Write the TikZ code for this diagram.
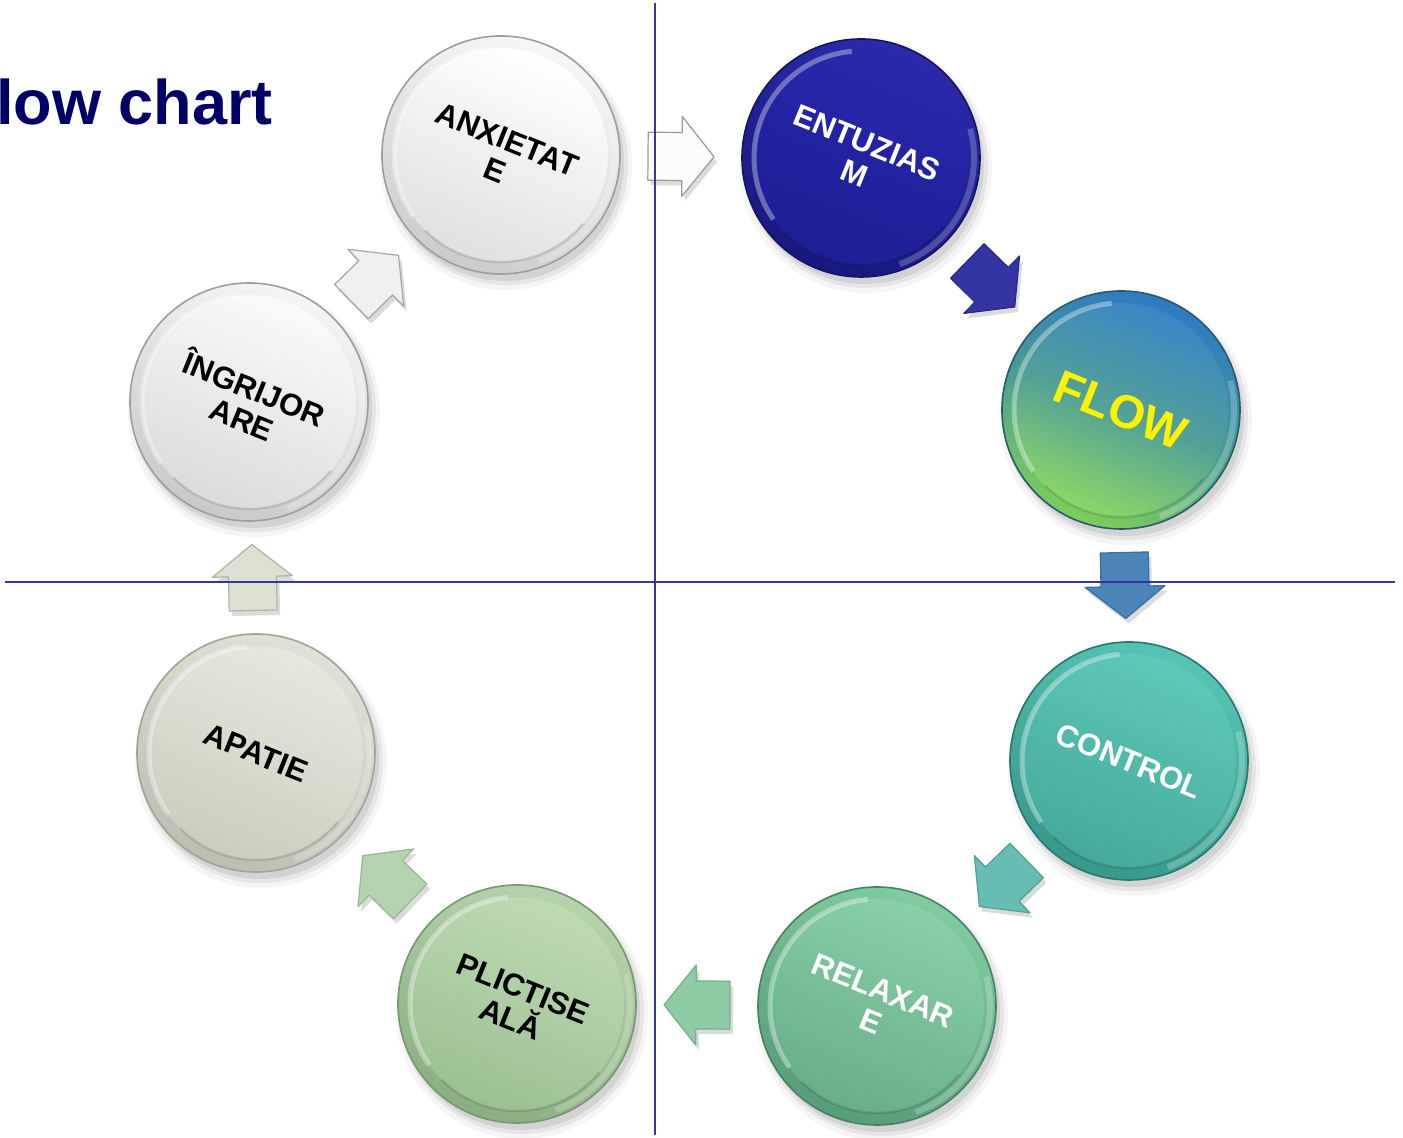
\documentclass[tikz,border=0pt]{standalone}
\usepackage{fontspec}
\setmainfont{Liberation Sans}
\usetikzlibrary{calc}

\definecolor{ruleblue}{HTML}{3535A3}
\definecolor{titleblue}{HTML}{000066}

% shadings of the eight discs: outer ring, inner face, outline
\tikzset{
  anx/outer/.style={top color=white!97!black, bottom color=white!80!black, shading angle=-22},
  anx/inner/.style={top color=white, bottom color=white!88!black, shading angle=-22},
  anx/edge/.style={draw=white!62!black},
  ent/outer/.style={top color={rgb,255:red,42;green,42;blue,172}, bottom color={rgb,255:red,24;green,24;blue,126}, shading angle=-22},
  ent/inner/.style={top color={rgb,255:red,40;green,40;blue,172}, bottom color={rgb,255:red,30;green,30;blue,150}, shading angle=-22},
  ent/edge/.style={draw={rgb,255:red,20;green,20;blue,100}},
  flw/outer/.style={top color={rgb,255:red,45;green,122;blue,196}, bottom color={rgb,255:red,125;green,205;blue,92}, middle color={rgb,255:red,74;green,154;blue,150}, shading angle=-22},
  flw/inner/.style={top color={rgb,255:red,58;green,134;blue,198}, bottom color={rgb,255:red,140;green,215;blue,102}, middle color={rgb,255:red,82;green,160;blue,152}, shading angle=-22},
  flw/edge/.style={draw={rgb,255:red,40;green,90;blue,110}},
  ctl/outer/.style={top color={rgb,255:red,86;green,196;blue,180}, bottom color={rgb,255:red,56;green,152;blue,138}, shading angle=-22},
  ctl/inner/.style={top color={rgb,255:red,94;green,200;blue,185}, bottom color={rgb,255:red,70;green,170;blue,154}, shading angle=-22},
  ctl/edge/.style={draw={rgb,255:red,40;green,120;blue,110}},
  rlx/outer/.style={top color={rgb,255:red,128;green,204;blue,160}, bottom color={rgb,255:red,88;green,156;blue,120}, shading angle=-22},
  rlx/inner/.style={top color={rgb,255:red,136;green,208;blue,168}, bottom color={rgb,255:red,104;green,174;blue,136}, shading angle=-22},
  rlx/edge/.style={draw={rgb,255:red,70;green,130;blue,100}},
  plc/outer/.style={top color={rgb,255:red,182;green,212;blue,172}, bottom color={rgb,255:red,138;green,174;blue,130}, shading angle=-22},
  plc/inner/.style={top color={rgb,255:red,190;green,218;blue,180}, bottom color={rgb,255:red,156;green,192;blue,146}, shading angle=-22},
  plc/edge/.style={draw={rgb,255:red,120;green,150;blue,112}},
  apa/outer/.style={top color={rgb,255:red,224;green,226;blue,214}, bottom color={rgb,255:red,188;green,191;blue,176}, shading angle=-22},
  apa/inner/.style={top color={rgb,255:red,230;green,232;blue,220}, bottom color={rgb,255:red,203;green,206;blue,190}, shading angle=-22},
  apa/edge/.style={draw={rgb,255:red,160;green,163;blue,150}},
  ing/outer/.style={top color=white!96!black, bottom color=white!79!black, shading angle=-22},
  ing/inner/.style={top color=white!98!black, bottom color=white!86!black, shading angle=-22},
  ing/edge/.style={draw=white!62!black},
  bubbletext/.style={circle, minimum size=238, inner sep=0, align=center, rotate=-22},
  lbl/.style={font=\fontsize{15.5}{16.5}\selectfont\bfseries},
  biglbl/.style={font=\fontsize{23.5}{25}\selectfont\bfseries},
  quadrule/.style={draw=ruleblue, line width=1pt},
  arrowshadow/.style={fill=black, opacity=0.14},
}

% bevelled disc with its label: name, centre, shading prefix, text colour, font style, label
\newcommand\bubble[6]{%
  \fill[black,opacity=.04] ($(#2)+(5,-9)$) circle (126);
  \fill[black,opacity=.06] ($(#2)+(5,-8)$) circle (122);
  \fill[black,opacity=.08] ($(#2)+(4,-7)$) circle (119);
  \shade[#3/outer] (#2) circle (119);
  \shade[#3/inner] (#2) circle (107);
  \draw[white,opacity=.35,line width=2.5] ($(#2)+(95:107)$) arc (95:215:107);
  \draw[white,opacity=.22,line width=3] ($(#2)+(-70:113)$) arc (-70:15:113);
  \draw[black,opacity=.12,line width=1.2] ($(#2)+(225:107)$) arc (225:320:107);
  \draw[#3/edge, line width=0.8] (#2) circle (119);
  \node[bubbletext, text=#4, #5] (#1) at (#2) {#6};
}

% block arrow halfway between two nodes, pointing from the first to the second
\newcommand\arrowpath{($(\p2)+(\n1+180:33)+(\n1+90:24)$) -- ($(\p2)+(\n1:1)+(\n1+90:24)$)
  -- ($(\p2)+(\n1:1)+(\n1+90:40)$) -- ($(\p2)+(\n1:33)$) -- ($(\p2)+(\n1:1)+(\n1-90:40)$)
  -- ($(\p2)+(\n1:1)+(\n1-90:24)$) -- ($(\p2)+(\n1+180:33)+(\n1-90:24)$) -- cycle}
\newcommand\flowarrow[4]{%
  \fill[arrowshadow] let \p1=($(#2)-(#1)$), \n1={atan2(\y1,\x1)}, \p2=($(#1)!0.5!(#2)+(3,-5)$) in \arrowpath;
  \filldraw[fill=#3, draw=#4, line width=0.6pt, line join=round] let \p1=($(#2)-(#1)$), \n1={atan2(\y1,\x1)}, \p2=($(#1)!0.5!(#2)$) in \arrowpath;
}

\begin{document}
\begin{tikzpicture}[x=0.5pt,y=0.5pt]
\useasboundingbox (0,0) rectangle (1403,1138);
\fill[white] (0,0) rectangle (1403,1138);

% title
\node[anchor=base west, inner sep=0, text=titleblue, font=\fontsize{31.5}{36}\selectfont\bfseries] (title) at (-4,1013) {low chart};

% the eight states
\bubble{anx}{501,983}{anx}{black}{lbl}{ANXIETAT\\E}
\bubble{ent}{861,980}{ent}{white}{lbl}{ENTUZIAS\\M}
\bubble{flw}{1121,728}{flw}{yellow}{biglbl}{FLOW}
\bubble{ctl}{1129,377}{ctl}{white}{lbl}{CONTROL}
\bubble{rlx}{877,132}{rlx}{white}{lbl}{RELAXAR\\E}
\bubble{plc}{517,134}{plc}{black}{lbl}{PLICTISE\\ALĂ}
\bubble{apa}{256,385}{apa}{black}{lbl}{APATIE}
\bubble{ing}{249,736}{ing}{black}{lbl}{ÎNGRIJOR\\ARE}

% transitions
\flowarrow{anx}{ent}{white!99!black}{white!60!black}
\flowarrow{ent}{flw}{{rgb,255:red,52;green,52;blue,165}}{{rgb,255:red,40;green,40;blue,130}}
\flowarrow{flw}{ctl}{{rgb,255:red,74;green,132;blue,184}}{{rgb,255:red,60;green,110;blue,160}}
\flowarrow{ctl}{rlx}{{rgb,255:red,103;green,189;blue,179}}{{rgb,255:red,80;green,160;blue,150}}
\flowarrow{rlx}{plc}{{rgb,255:red,143;green,203;blue,165}}{{rgb,255:red,115;green,175;blue,140}}
\flowarrow{plc}{apa}{{rgb,255:red,179;green,212;blue,174}}{{rgb,255:red,150;green,185;blue,146}}
\flowarrow{apa}{ing}{{rgb,255:red,221;green,225;blue,210}}{{rgb,255:red,175;green,180;blue,165}}
\flowarrow{ing}{anx}{white!94!black}{white!65!black}

% quadrant rules
\coordinate (vtop) at (655,1135);
\coordinate (vbot) at (655,3);
\coordinate (hleft) at (5,556);
\coordinate (hright) at (1395,556);
\draw[quadrule] (vtop) -- (vbot);
\draw[quadrule] (hleft) -- (hright);
\end{tikzpicture}
\end{document}
